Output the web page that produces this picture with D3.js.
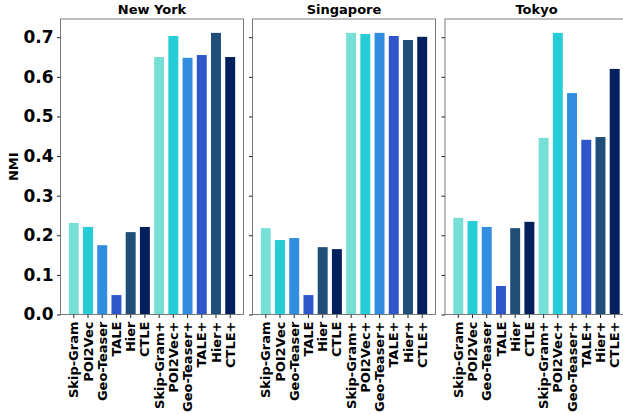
<!DOCTYPE html>
<html>
<head>
<meta charset="utf-8">
<script src="https://cdn.jsdelivr.net/npm/d3@7/dist/d3.min.js"></script>
<style>
  body { margin: 0; background: #fff; }
  text { font-family: "DejaVu Sans", sans-serif; font-weight: bold; }
</style>
</head>
<body>
<div id="chart"></div>
<script>
var methods = ["Skip-Gram", "POI2Vec", "Geo-Teaser", "TALE", "Hier", "CTLE",
               "Skip-Gram+", "POI2Vec+", "Geo-Teaser+", "TALE+", "Hier+", "CTLE+"];
var cities = ["New York", "Singapore", "Tokyo"];
var newYork   = [0.231, 0.221, 0.175, 0.049, 0.208, 0.221, 0.650, 0.703, 0.648, 0.655, 0.711, 0.650];
var singapore = [0.218, 0.188, 0.193, 0.049, 0.170, 0.165, 0.711, 0.708, 0.711, 0.703, 0.693, 0.701];
var tokyo     = [0.244, 0.236, 0.221, 0.072, 0.218, 0.234, 0.446, 0.711, 0.559, 0.441, 0.448, 0.620];
var yTicks = [0.0, 0.1, 0.2, 0.3, 0.4, 0.5, 0.6, 0.7];
var colors = ["#76dfd6", "#26cdd6", "#318ddf", "#2d57c9", "#1f4e79", "#021f5e"];

var series = [newYork, singapore, tokyo];
var W = 623, H = 415;
var svg = d3.select("#chart").append("svg").attr("width", W).attr("height", H);

var plotTop = 19, plotBottom = 314.5, pw = 183;
var lefts = [60.5, 252.5, 445];

var y = d3.scaleLinear().domain([0, 0.746]).range([plotBottom, plotTop]);

cities.forEach(function (city, ci) {
  var g = svg.append("g").attr("transform", "translate(" + lefts[ci] + ",0)");
  var x = d3.scaleBand().domain(methods).range([0, pw]).paddingInner(0.3).paddingOuter(0.585);

  g.selectAll("rect.bar")
    .data(series[ci])
    .enter().append("rect")
      .attr("class", "bar")
      .attr("x", function (d, i) { return x(methods[i]); })
      .attr("width", x.bandwidth())
      .attr("y", function (d) { return y(d); })
      .attr("height", function (d) { return plotBottom - y(d); })
      .attr("fill", function (d, i) { return colors[i % 6]; });

  // frame
  g.append("rect")
    .attr("x", 0).attr("y", plotTop)
    .attr("width", pw).attr("height", plotBottom - plotTop)
    .attr("fill", "none").attr("stroke", "#7a7a7a").attr("stroke-width", 1);

  var yAxis = d3.axisLeft(y).tickValues(yTicks).tickSize(3.5).tickPadding(3.5)
    .tickFormat(ci === 0 ? d3.format(".1f") : "");
  var ya = g.append("g").call(yAxis);
  ya.select(".domain").remove();
  ya.selectAll("text").style("font-size", "17px").attr("fill", "#000");
  ya.selectAll("line").attr("stroke", "#222");

  var xAxis = d3.axisBottom(x).tickSize(3.5).tickPadding(3.5);
  var xa = g.append("g").attr("transform", "translate(0," + plotBottom + ")").call(xAxis);
  xa.select(".domain").remove();
  xa.selectAll("line").attr("stroke", "#222");
  xa.selectAll("text")
    .style("font-size", "13px")
    .attr("fill", "#000")
    .attr("y", 0).attr("x", -7).attr("dy", "0.35em")
    .attr("transform", "rotate(-90)")
    .attr("text-anchor", "end");

  g.append("text")
    .attr("x", pw / 2).attr("y", 14)
    .attr("text-anchor", "middle")
    .style("font-size", "13px")
    .text(city);
});

svg.append("text")
  .attr("transform", "translate(18," + ((plotTop + plotBottom) / 2) + ") rotate(-90)")
  .attr("text-anchor", "middle")
  .style("font-size", "13px")
  .text("NMI");
</script>
</body>
</html>
